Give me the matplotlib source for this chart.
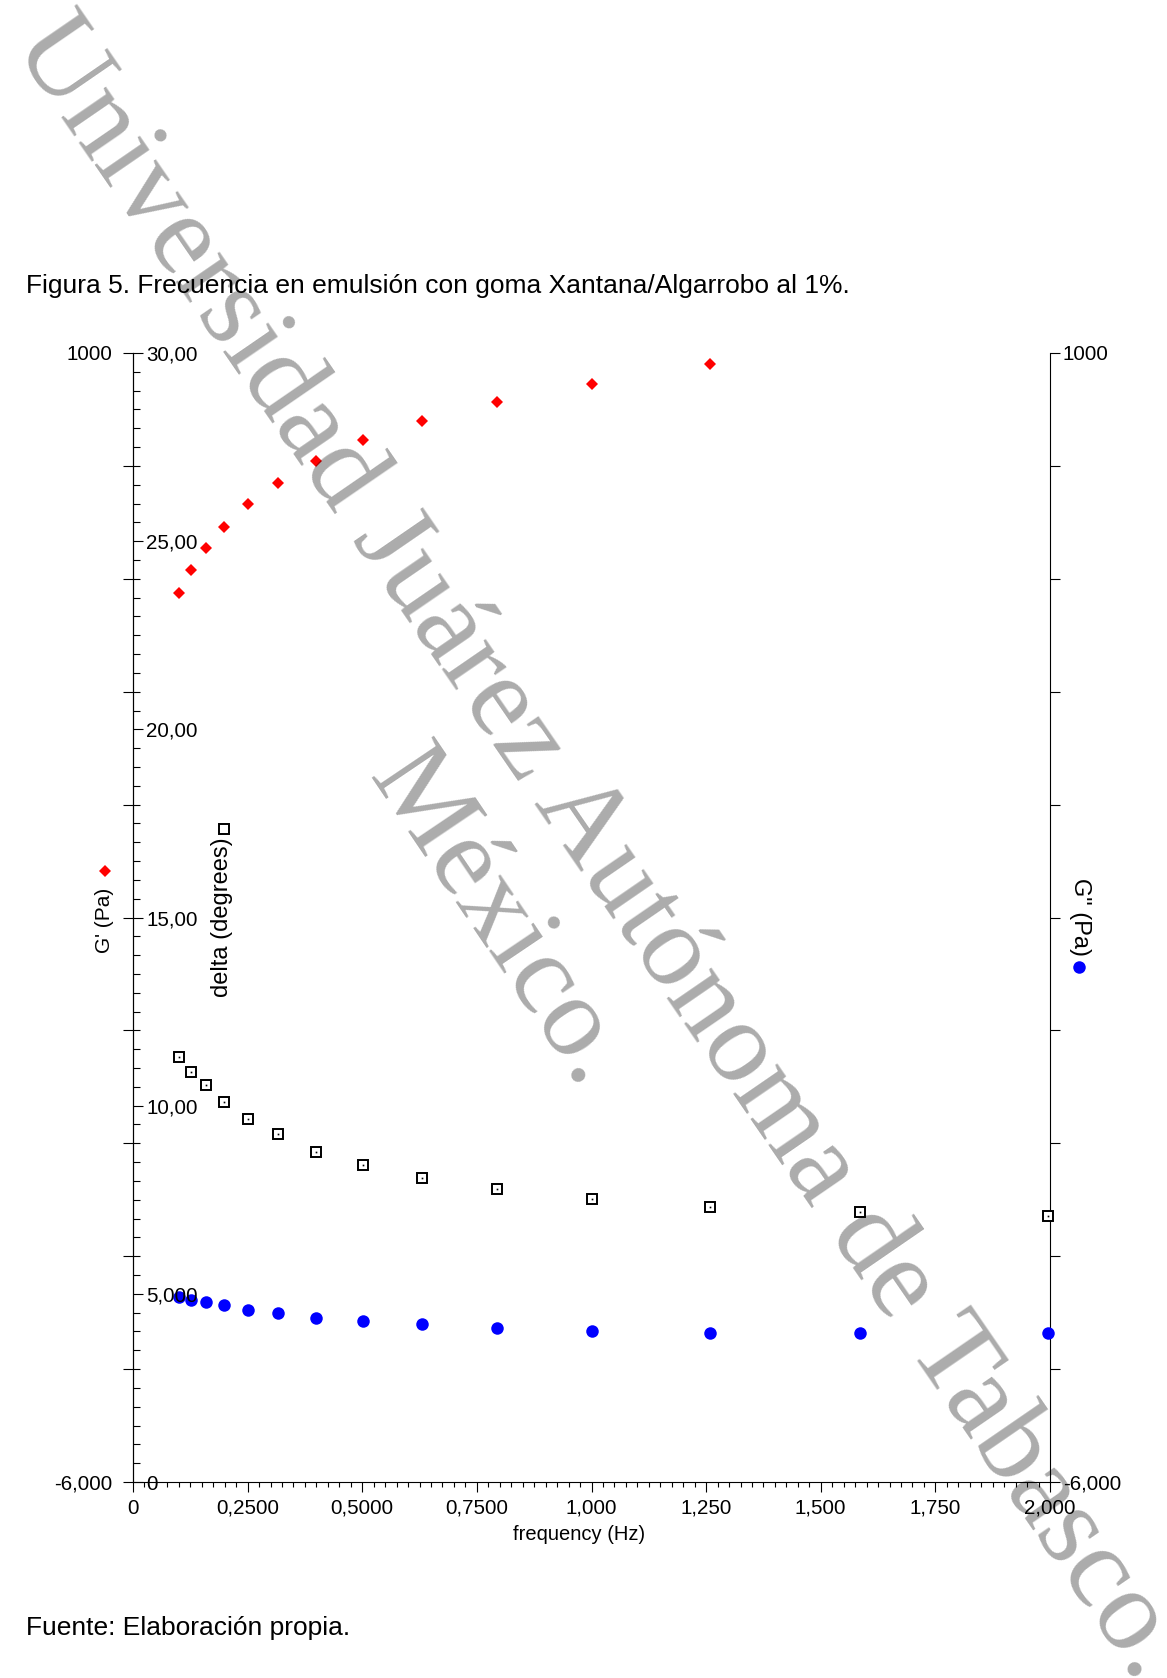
import matplotlib
matplotlib.use("Agg")
import matplotlib.pyplot as plt
from matplotlib.lines import Line2D
from matplotlib.ticker import MultipleLocator

plt.rcParams['font.family'] = ['Liberation Sans', 'DejaVu Sans']

# --- datos ---
freq = [0.1, 0.1259, 0.1585, 0.1995, 0.2512, 0.3162, 0.3981, 0.5012,
        0.6310, 0.7943, 1.0, 1.259, 1.585, 1.995]
g_prime = [-490, -345, -207, -77, 64, 196, 329, 459, 578, 698, 810, 930]   # G' (Pa)
g_second = [-4851, -4871, -4884, -4902, -4932, -4954, -4983, -5003,
            -5022, -5043, -5062, -5074, -5074, -5074]                      # G'' (Pa)
delta = [11.30, 10.90, 10.56, 10.11, 9.65, 9.25, 8.77, 8.43,
         8.09, 7.78, 7.52, 7.32, 7.18, 7.06]                               # grados

x_ticks = [0, 0.25, 0.5, 0.75, 1.0, 1.25, 1.5, 1.75, 2.0]
x_labels = ["0", "0,2500", "0,5000", "0,7500", "1,000", "1,250", "1,500", "1,750", "2,000"]
g_ticks = [-6000, -5300, -4600, -3900, -3200, -2500, -1800, -1100, -400, 300, 1000]
g_labels = ["-6,000", "", "", "", "", "", "", "", "", "", "1000"]
d_ticks = [0, 5, 10, 15, 20, 25, 30]
d_labels = ["0", "5,000", "10,00", "15,00", "20,00", "25,00", "30,00"]

W, H = 1167, 1678
TICK_FS = 14.8


def fx(x):
    return x / W


def fy(y):
    return 1 - y / H


fig = plt.figure(figsize=(W / 100, H / 100), dpi=100)
ax = fig.add_axes([fx(133), fy(1482), 917 / W, 1129 / H])

# eje G' (izquierda) + frecuencia
ax.set_xlim(0, 2)
ax.set_ylim(-6000, 1000)
for s in ('top', 'right'):
    ax.spines[s].set_visible(False)
for s in ('left', 'bottom'):
    ax.spines[s].set_linewidth(0.8)
ax.set_yticks(g_ticks)
ax.set_yticklabels(g_labels)
ax.tick_params(axis='y', direction='out', length=7.2, width=0.8, pad=7.5, labelsize=TICK_FS)
ax.set_xticks(x_ticks)
ax.set_xticklabels(x_labels)
ax.xaxis.set_minor_locator(MultipleLocator(0.025))
ax.tick_params(axis='x', which='major', length=7.2, width=0.8, pad=5, labelsize=TICK_FS)
ax.tick_params(axis='x', which='minor', length=3.6, width=0.8)
ax.set_xlabel('frequency (Hz)', fontsize=14.5)
ax.xaxis.set_label_coords(0.486, -0.038)
ax.plot(freq[:len(g_prime)], g_prime, 'D', color='#ff0000', ms=6, mew=0, clip_on=False, zorder=3)

# eje G'' (derecha)
ax2 = ax.twinx()
ax2.set_ylim(-6000, 1000)
for s in ('top', 'left', 'bottom'):
    ax2.spines[s].set_visible(False)
ax2.spines['right'].set_linewidth(0.8)
ax2.set_yticks(g_ticks)
ax2.set_yticklabels(g_labels)
ax2.tick_params(axis='y', direction='out', length=7.2, width=0.8, pad=2, labelsize=TICK_FS)
ax2.plot(freq, g_second, 'o', color='#0000ff', ms=9, mew=0, clip_on=False, zorder=3)

# eje delta, dibujado sobre el eje izquierdo con etiquetas hacia dentro
ax3 = ax.twinx()
ax3.set_ylim(0, 30)
for s in ('top', 'left', 'bottom'):
    ax3.spines[s].set_visible(False)
ax3.spines['right'].set_position(('axes', 0))
ax3.spines['right'].set_linewidth(0.8)
ax3.set_yticks(d_ticks)
ax3.set_yticklabels(d_labels)
ax3.yaxis.set_minor_locator(MultipleLocator(0.5))
ax3.tick_params(axis='y', which='major', direction='out', length=7.5, width=0.8, pad=2, labelsize=TICK_FS)
ax3.tick_params(axis='y', which='minor', direction='out', length=4.8, width=0.8)
ax3.plot(freq, delta, 's', mfc='white', mec='black', ms=6.5, mew=1.4, clip_on=False, zorder=3)
ax3.plot(freq, delta, 's', color='black', ms=1.2, mew=0, clip_on=False, zorder=4)

# títulos de ejes con su símbolo
fig.text(fx(105), fy(920), "G' (Pa)", rotation=90, ha='center', va='center', fontsize=15)
fig.add_artist(Line2D([fx(105)], [fy(871)], marker='D', color='#ff0000', ms=6, mew=0,
                      transform=fig.transFigure))
fig.text(fx(222), fy(917), "delta (degrees)", rotation=90, ha='center', va='center', fontsize=17)
fig.add_artist(Line2D([fx(224)], [fy(829)], marker='s', mfc='white', mec='black', ms=6.5, mew=1.4,
                      transform=fig.transFigure))
fig.text(fx(1080), fy(917), 'G" (Pa)', rotation=270, ha='center', va='center', fontsize=17)
fig.add_artist(Line2D([fx(1079)], [fy(967)], marker='o', color='#0000ff', ms=9, mew=0,
                      transform=fig.transFigure))

# texto del documento
fig.text(fx(26), fy(286), "Figura 5. Frecuencia en emulsión con goma Xantana/Algarrobo al 1%.",
         ha='left', va='center', fontsize=19)
fig.text(fx(26), fy(1628), "Fuente: Elaboración propia.", ha='left', va='center', fontsize=19)

# marca de agua
fig.text(fx(598), fy(848), "Universidad Juárez Autónoma de Tabasco.", rotation=-55.5,
         rotation_mode='anchor', ha='center', va='center', fontsize=84,
         family='Liberation Serif', color='black', alpha=0.33, zorder=10)
fig.text(fx(497), fy(919), "México.", rotation=-56, rotation_mode='anchor',
         ha='center', va='center', fontsize=83, family='Liberation Serif',
         color='black', alpha=0.33, zorder=10)

fig.savefig('out.png', dpi=100)
